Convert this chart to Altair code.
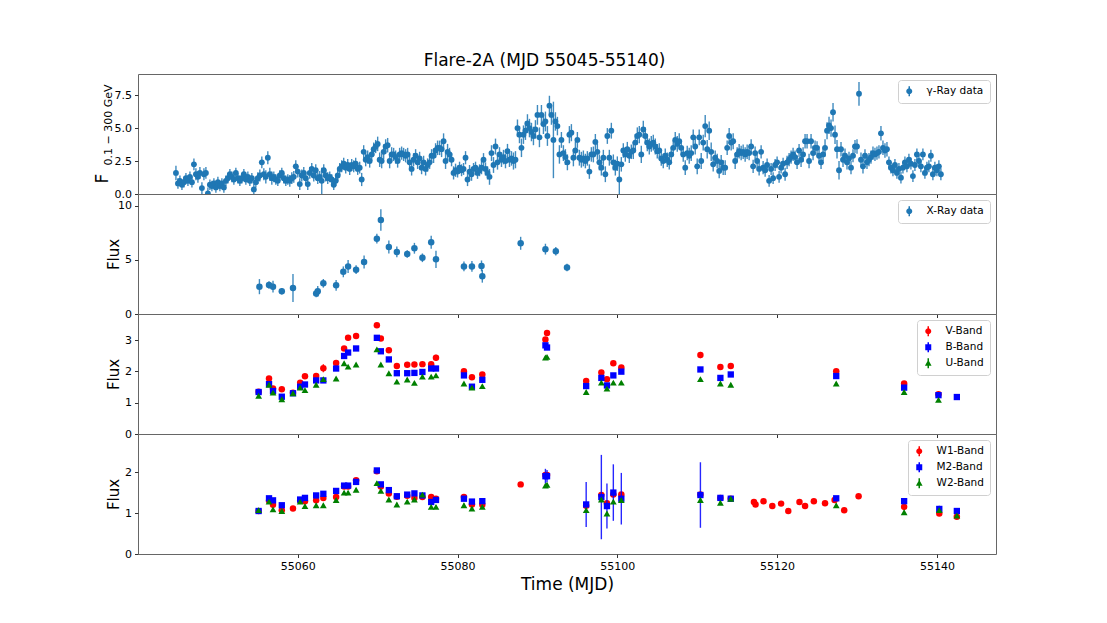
import altair as alt
import numpy as np
import pandas as pd

FONT = "DejaVu Sans"
W, H = 858, 120
XDOM = [55040.0, 55147.4]
XTICKS = [55060, 55080, 55100, 55120, 55140]

# ---------------- gamma-ray light curve (6-hour bins) ----------------
GAMMA_START = 55044.75
GAMMA_STEP = 0.25
gamma_flux = [
    1.6,
    0.8, 1.0, 0.7, 0.9,   1.2, 1.0, 1.3, 0.9,   2.25, 1.5, 1.3, 1.6,   0.45, 1.5, 1.6, 0.05,
    0.7, 0.6, 0.8, 0.5,   0.9, 0.6, 0.8, 0.5,   1.0, 1.2, 1.5, 1.3,    1.1, 1.6, 1.2, 1.0,
    1.2, 1.5, 1.1, 1.3,   1.0, 1.2, 0.35, 0.9,  1.2, 1.4, 2.4, 1.5,    1.3, 2.75, 1.5, 1.2,
    1.3, 1.1, 1.0, 1.4,   1.6, 1.2, 1.0, 1.1,   1.0, 1.2, 1.3, 2.1,    1.7, 0.75, 1.4, 1.6,
    1.2, 0.75, 1.6, 1.9,  1.4, 1.8, 1.2, 1.3,   1.0, 1.8, 1.4, 1.2,    1.3, 1.1, 0.7, 1.0,
    1.4, 1.9, 2.1, 2.3,   2.0, 2.2, 1.9, 2.2,   2.1, 2.3, 1.9, 2.0,    1.1, 3.2, 2.6, 2.8,
    2.5, 3.0, 3.4, 3.6,   3.8, 2.6, 2.5, 3.2,   3.6, 3.7, 2.5, 3.0,    3.0, 2.8, 2.5, 3.0,
    3.1, 3.0, 2.9, 3.0,   2.4, 1.9, 2.6, 2.9,   2.4, 2.7, 2.0, 2.4,    1.9, 2.2, 2.4, 2.9,
    2.9, 3.3, 3.5, 3.5,   3.4, 4.0, 2.5, 3.2,   3.0, 2.6, 1.6, 1.8,    1.7, 2.0, 1.8, 1.9,
    2.75, 1.1, 1.7, 1.5,  1.9, 2.0, 1.6, 1.8,   2.0, 2.6, 1.9, 1.6,    1.3, 3.1, 2.2, 3.6,
    2.4, 3.0, 2.6, 2.8,   2.5, 3.25, 2.6, 2.7,  2.5, 2.6, 5.0, 4.5,    3.5, 4.5, 4.8, 5.35,
    5.0, 4.7, 4.4, 4.9,   6.0, 4.3, 6.0, 5.3,   5.5, 4.4, 6.7, 6.0,    4.1, 5.5, 5.15, 3.0,
    4.1, 3.1, 2.8, 2.4,   4.5, 4.65, 2.75, 3.3, 4.1, 2.75, 2.6, 2.7,   2.5, 2.7, 1.7, 3.0,
    3.0, 3.95, 3.2, 2.4,  2.0, 2.75, 1.5, 4.4,  2.75, 4.8, 2.4, 2.0,   2.3, 1.1, 2.25, 3.3,
    3.0, 3.4, 2.9, 3.2,   3.3, 3.9, 4.4, 4.5,   3.0, 4.9, 4.4, 3.9,    3.6, 3.8, 3.9, 3.6,
    3.25, 3.3, 2.7, 2.5,  2.9, 2.6, 2.4, 3.0,   3.5, 4.1, 3.8, 4.0,    3.5, 3.0, 2.0, 3.1,
    2.9, 3.1, 4.3, 3.6,   2.1, 4.3, 2.5, 3.9,   5.15, 3.4, 4.8, 3.2,   2.25, 2.75, 2.5, 1.75,
    2.4, 2.0, 2.0, 3.5,   4.4, 3.9, 4.0, 2.5,   3.0, 3.25, 3.1, 3.2,   3.0, 3.2, 3.1, 3.6,
    2.1, 3.1, 2.5, 1.9,   3.2, 2.0, 1.8, 2.2,   1.0, 1.9, 1.2, 2.2,    2.4, 1.3, 2.0, 2.3,
    1.5, 2.4, 2.6, 2.8,   3.0, 2.8, 2.4, 3.3,   2.6, 3.0, 4.0, 4.0,    2.5, 4.0, 3.1, 3.5,
    3.5, 2.9, 2.4, 3.0,   3.5, 4.8, 5.2, 5.0,   6.2, 4.5, 3.4, 1.8,    3.4, 2.6, 2.9, 2.4,
    2.7, 2.0, 2.9, 3.6,   3.6, 7.6, 2.6, 2.1,   2.9, 2.4, 2.6, 2.8,    3.1, 3.0, 3.1, 3.2,
    4.6, 3.5, 3.3, 3.4,   2.4, 2.0, 1.8, 2.2,   1.6, 1.9, 1.24, 2.0,   2.4, 2.1, 2.6, 2.3,
    1.36, 2.2, 3.0, 2.5,  2.1, 3.0, 1.6, 2.0,   2.1, 2.9, 1.5, 2.0,
    1.8, 2.1, 1.5,
]
# typical 1-sigma error for each day, MJD 55044 ... 55140
gamma_err_by_day = [
    0.55,
    0.4, 0.4, 0.45, 0.45, 0.4, 0.4, 0.4, 0.4, 0.4, 0.4,
    0.45, 0.5, 0.4, 0.4, 0.45, 0.45, 0.45, 0.45, 0.45, 0.4,
    0.45, 0.45, 0.45, 0.5, 0.5,
    0.55, 0.55, 0.5, 0.5, 0.5, 0.5, 0.5, 0.55, 0.6, 0.5,
    0.45, 0.5, 0.45, 0.5, 0.6, 0.55, 0.55,
    0.65, 0.7, 0.7, 0.75, 0.75, 0.7, 0.6, 0.65, 0.6,
    0.55, 0.6, 0.6, 0.6, 0.55, 0.55, 0.65, 0.65, 0.6, 0.55,
    0.55, 0.6, 0.55, 0.6, 0.6, 0.7, 0.55, 0.55, 0.6, 0.55,
    0.55, 0.5, 0.5, 0.45, 0.45, 0.5, 0.5, 0.55, 0.55, 0.5,
    0.65, 0.7, 0.55, 0.5, 0.55, 0.5, 0.5, 0.55, 0.45, 0.45,
    0.45, 0.45, 0.45, 0.45, 0.45,
]
# bins with a noticeably larger error bar
gamma_wide_t = [55063.0, 55091.5, 55092.0, 55100.25, 55111.0, 55130.25]
gamma_wide_e = [1.0, 0.75, 2.9, 1.1, 0.85, 0.9]

# ---------------- X-ray ----------------
xray_t = [55055.2, 55056.4, 55056.9, 55058.0, 55059.4, 55062.3, 55062.5, 55063.2, 55064.8,
          55065.7, 55066.3, 55067.3, 55068.3, 55069.9, 55070.4, 55071.4, 55072.4, 55073.7,
          55074.6, 55075.6, 55076.7, 55077.3, 55080.8, 55081.8, 55083.0, 55083.1, 55087.9,
          55091.0, 55092.3, 55093.7]
xray_v = [2.53, 2.68, 2.53, 2.1, 2.4, 1.9, 2.1, 2.84, 2.65, 3.9, 4.4, 4.1, 4.8, 6.97, 8.7,
          6.2, 5.74, 5.55, 6.08, 5.2, 6.63, 5.06, 4.4, 4.4, 4.45, 3.5, 6.54, 6.0, 5.8, 4.3]
xray_e = [0.7, 0.35, 0.55, 0.3, 1.3, 0.35, 0.5, 0.4, 0.5, 0.5, 0.6, 0.4, 0.6, 0.45, 1.0,
          0.6, 0.5, 0.35, 0.5, 0.4, 0.6, 0.8, 0.45, 0.5, 0.5, 0.6, 0.6, 0.5, 0.4, 0.35]

# ---------------- optical (V, B, U) ----------------
opt_t = [55055.1, 55056.4, 55056.9, 55058.0, 55059.4, 55060.3, 55060.9, 55062.3, 55063.2,
         55064.8, 55065.8, 55066.3, 55067.3, 55069.9, 55070.4, 55071.4, 55072.4, 55073.7,
         55074.6, 55075.6, 55076.7, 55077.3, 55080.8, 55081.8, 55083.1, 55091.0, 55091.2,
         55096.1, 55098.0, 55098.7, 55099.5, 55100.5, 55110.4, 55112.9, 55114.2, 55127.4,
         55135.9, 55140.2]
v_band = [1.35, 1.77, 1.45, 1.43, 1.32, 1.64, 1.84, 1.85, 2.1, 2.27, 2.73, 3.07, 3.13, 3.47,
          3.05, 2.67, 2.17, 2.21, 2.22, 2.23, 2.23, 2.43, 2.0, 1.81, 1.9, 3.02, 3.22, 1.69,
          1.96, 1.75, 2.26, 2.12, 2.52, 2.14, 2.17, 2.0, 1.61, 1.27]
v_err = [0.05, 0.05, 0.05, 0.05, 0.05, 0.05, 0.06, 0.06, 0.13, 0.06, 0.06, 0.06, 0.06, 0.07,
         0.06, 0.06, 0.05, 0.05, 0.05, 0.05, 0.05, 0.1, 0.05, 0.05, 0.05, 0.06, 0.06, 0.05,
         0.05, 0.05, 0.06, 0.05, 0.1, 0.05, 0.05, 0.06, 0.05, 0.05]
b_t = opt_t + [55142.5]
b_band = [1.34, 1.59, 1.37, 1.19, 1.3, 1.51, 1.58, 1.71, 1.71, 2.09, 2.49, 2.6, 2.73, 3.07,
          2.64, 2.38, 1.94, 1.94, 1.95, 1.98, 2.09, 2.09, 1.87, 1.51, 1.73, 2.83, 2.76, 1.53,
          1.79, 1.55, 1.87, 1.99, 2.06, 1.79, 1.9, 1.85, 1.48, 1.24, 1.18]
b_err = [0.04] * 39
u_band = [1.22, 1.57, 1.32, 1.11, 1.3, 1.48, 1.4, 1.57, 1.75, 1.77, 2.26, 2.15, 2.22, 2.7,
          2.22, 1.94, 1.67, 1.74, 1.63, 1.83, 1.83, 1.87, 1.61, 1.48, 1.53, 2.44, 2.46, 1.34,
          1.64, 1.45, 1.64, 1.64, 1.75, 1.61, 1.57, 1.61, 1.34, 1.09]
u_err = [0.04] * 38

# ---------------- UV (W1, M2, W2) ----------------
w1_t = [55055.1, 55056.4, 55056.9, 55058.0, 55059.4, 55060.3, 55060.9, 55062.3, 55063.2,
        55064.8, 55065.8, 55066.3, 55067.3, 55069.9, 55070.4, 55071.4, 55072.4, 55073.7,
        55074.6, 55075.6, 55076.7, 55077.3, 55080.8, 55081.8, 55083.1, 55087.9, 55091.0,
        55091.2, 55096.1, 55098.0, 55098.7, 55099.5, 55100.5, 55110.4, 55112.9, 55114.2,
        55117.1, 55117.3, 55118.3, 55119.4, 55120.5, 55121.4, 55122.8, 55123.5, 55124.6,
        55126.0, 55127.2, 55128.4, 55130.2, 55135.9, 55140.3, 55142.5]
w1_band = [1.05, 1.3, 1.2, 1.07, 1.11, 1.3, 1.29, 1.31, 1.37, 1.39, 1.65, 1.65, 1.8, 2.02,
           1.65, 1.48, 1.4, 1.42, 1.37, 1.39, 1.39, 1.35, 1.39, 1.21, 1.2, 1.7, 1.93, 1.93,
           1.18, 1.44, 1.24, 1.45, 1.45, 1.45, 1.37, 1.35, 1.27, 1.21, 1.29, 1.17, 1.23,
           1.05, 1.27, 1.17, 1.29, 1.24, 1.32, 1.07, 1.41, 1.15, 0.99, 0.91]
w1_err = [0.04] * 52
m2_t = [55055.1, 55056.4, 55056.9, 55058.0, 55060.3, 55060.9, 55062.3, 55063.2, 55064.8,
        55065.8, 55066.3, 55067.3, 55069.9, 55070.4, 55071.4, 55072.4, 55073.7, 55074.6,
        55075.6, 55076.7, 55077.3, 55080.8, 55081.8, 55083.1, 55091.0, 55091.2, 55096.1,
        55098.0, 55098.7, 55099.5, 55100.5, 55110.4, 55112.9, 55114.2, 55127.4, 55135.9,
        55140.3, 55142.5]
m2_band = [1.05, 1.36, 1.31, 1.19, 1.33, 1.37, 1.43, 1.47, 1.54, 1.67, 1.67, 1.76, 2.04,
           1.7, 1.56, 1.41, 1.45, 1.48, 1.43, 1.27, 1.32, 1.35, 1.28, 1.29, 1.9, 1.9, 1.21,
           1.39, 1.17, 1.5, 1.35, 1.44, 1.37, 1.35, 1.36, 1.29, 1.1, 1.05]
m2_err = [0.04, 0.05, 0.04, 0.04, 0.04, 0.04, 0.04, 0.05, 0.04, 0.04, 0.04, 0.04, 0.05,
          0.04, 0.04, 0.04, 0.04, 0.04, 0.04, 0.04, 0.04, 0.04, 0.04, 0.04, 0.18, 0.15, 0.55,
          1.03, 0.55, 0.69, 0.63, 0.8, 0.05, 0.04, 0.05, 0.06, 0.08, 0.05]
w2_band = [1.07, 1.28, 1.09, 1.05, 1.28, 1.17, 1.19, 1.19, 1.32, 1.5, 1.5, 1.57, 1.73,
           1.54, 1.33, 1.21, 1.28, 1.33, 1.45, 1.15, 1.15, 1.19, 1.11, 1.15, 1.67, 1.69,
           1.07, 1.33, 0.99, 1.28, 1.32, 1.32, 1.25, 1.35, 1.19, 1.02, 1.07, 0.94]
w2_err = [0.04] * 38

# ---------------- styling helpers ----------------
BLUE_T10 = "#1f77b4"
RED, BLUE, GREEN = "#ff0000", "#0000ff", "#008000"
BAR = "M-0.15,-1L0.15,-1L0.15,1L-0.15,1Z"
CIRCLE_EB = "M-0.6,0A0.6,0.6,0,1,1,0.6,0A0.6,0.6,0,1,1,-0.6,0Z " + BAR
SQUARE_EB = "M-0.6,-0.6L0.6,-0.6L0.6,0.6L-0.6,0.6Z " + BAR
TRI_EB = "M0,-0.72L0.66,0.5L-0.66,0.5Z " + BAR


def frame(t, v, e):
    df = pd.DataFrame({"t": t, "v": v, "e": e})
    df["lo"] = df["v"] - df["e"]
    df["hi"] = df["v"] + df["e"]
    return df


def x_enc(show):
    if show:
        axis = alt.Axis(values=XTICKS, format="d", title="Time (MJD)", titleFontSize=17,
                        titleY=30, titleBaseline="middle", labelFontSize=11)
    else:
        axis = alt.Axis(values=XTICKS, labels=False, title=None)
    return alt.X("t:Q", scale=alt.Scale(domain=XDOM, nice=False, zero=False), axis=axis)


def panel(series, ydom, yticks, yfmt, ytitle, names, colors, shapes, show_x=False,
          title_pos=(-25, 60), title_size=15, extra=None):
    yaxis = alt.Axis(values=yticks, format=yfmt, title=ytitle, titleFontSize=title_size,
                     titleX=title_pos[0], titleY=title_pos[1], titleAngle=270,
                     titleAlign="center", titleBaseline="middle")
    yscale = alt.Scale(domain=ydom, nice=False, zero=False)
    layers = []
    for df, color, shape, size in series:
        rules = alt.Chart(df).mark_rule(clip=True, strokeWidth=1.4, color=color,
                                        opacity=0.85).encode(
            x=x_enc(show_x),
            y=alt.Y("lo:Q", scale=yscale, axis=yaxis),
            y2="hi:Q",
        )
        pts = alt.Chart(df).mark_point(clip=True, filled=True, shape=shape, size=size,
                                       color=color, opacity=1, strokeWidth=0).encode(
            x=x_enc(show_x),
            y=alt.Y("v:Q", scale=yscale, axis=yaxis),
        )
        layers += [rules, pts]
    key_df = pd.DataFrame({"band": names})
    key = alt.Chart(key_df).mark_point(filled=True, opacity=1).encode(
        color=alt.Color("band:N", scale=alt.Scale(domain=names, range=colors),
                        legend=alt.Legend(title=None, orient="top-right")),
        shape=alt.Shape("band:N", scale=alt.Scale(domain=names, range=shapes),
                        legend=alt.Legend(title=None, orient="top-right")),
    ).transform_filter("false")
    layers.append(key)
    if extra is not None:
        layers.append(extra)
    return alt.layer(*layers).properties(width=W, height=H)


# ---------------- build data frames ----------------
g_t = GAMMA_START + GAMMA_STEP * np.arange(len(gamma_flux))
g_err = np.array(gamma_err_by_day)[np.floor(g_t).astype(int) - 55044]
for tt, ee in zip(gamma_wide_t, gamma_wide_e):
    g_err[np.abs(g_t - tt) < 1e-6] = ee
gamma_df = frame(g_t, gamma_flux, g_err)

sub_df = pd.DataFrame({"s": ["0.1 \u2212 300 GeV"]})
subscript = alt.Chart(sub_df).mark_text(angle=270, fontSize=11, font=FONT, align="center",
                                        baseline="middle", color="black").encode(
    x=alt.value(-29), y=alt.value(51), text="s:N")

p1 = panel([(gamma_df, BLUE_T10, "circle", 34)], [0, 9.1], [0, 2.5, 5, 7.5], ".1f", "F",
           ["\u03b3-Ray data"], [BLUE_T10], [CIRCLE_EB], title_pos=(-36, 104),
           title_size=17, extra=subscript)
p2 = panel([(frame(xray_t, xray_v, xray_e), BLUE_T10, "circle", 42)], [0, 11.1],
           [0, 5, 10], "d", "Flux", ["X-Ray data"], [BLUE_T10], [CIRCLE_EB])
p3 = panel([(frame(opt_t, v_band, v_err), RED, "circle", 42),
            (frame(b_t, b_band, b_err), BLUE, "square", 40),
            (frame(opt_t, u_band, u_err), GREEN, "triangle-up", 46)],
           [0, 3.83], [0, 1, 2, 3], "d", "Flux", ["V-Band", "B-Band", "U-Band"],
           [RED, BLUE, GREEN], [CIRCLE_EB, SQUARE_EB, TRI_EB])
p4 = panel([(frame(w1_t, w1_band, w1_err), RED, "circle", 42),
            (frame(m2_t, m2_band, m2_err), BLUE, "square", 40),
            (frame(m2_t, w2_band, w2_err), GREEN, "triangle-up", 46)],
           [0, 2.93], [0, 1, 2], "d", "Flux", ["W1-Band", "M2-Band", "W2-Band"],
           [RED, BLUE, GREEN], [CIRCLE_EB, SQUARE_EB, TRI_EB], show_x=True)

chart = alt.vconcat(p1, p2, p3, p4, spacing=0, bounds="flush").resolve_scale(
    color="independent", shape="independent"
).resolve_legend(
    color="independent", shape="independent"
).properties(
    title=alt.TitleParams("Flare-2A (MJD 55045-55140)", fontSize=17, font=FONT,
                          fontWeight="normal", offset=4, anchor="middle", color="black"),
    padding={"left": 84, "top": 43, "right": 10, "bottom": 4},
).configure(font=FONT).configure_view(
    stroke="#666666", strokeWidth=1
).configure_axis(
    domain=False, grid=False, tickColor="#333333", tickSize=3.5, tickWidth=1,
    labelFont=FONT, labelFontSize=11, labelColor="black", labelPadding=3,
    titleFont=FONT, titleColor="black", titleFontWeight="normal",
).configure_legend(
    offset=6, padding=6, strokeColor="#d0d0d0", fillColor="white", cornerRadius=3,
    labelFont=FONT, labelFontSize=10.5, labelColor="black", symbolSize=100,
    symbolStrokeWidth=0, labelOffset=12, rowPadding=5,
)

chart.save("out.html", embed_options={"renderer": "svg", "actions": False})
